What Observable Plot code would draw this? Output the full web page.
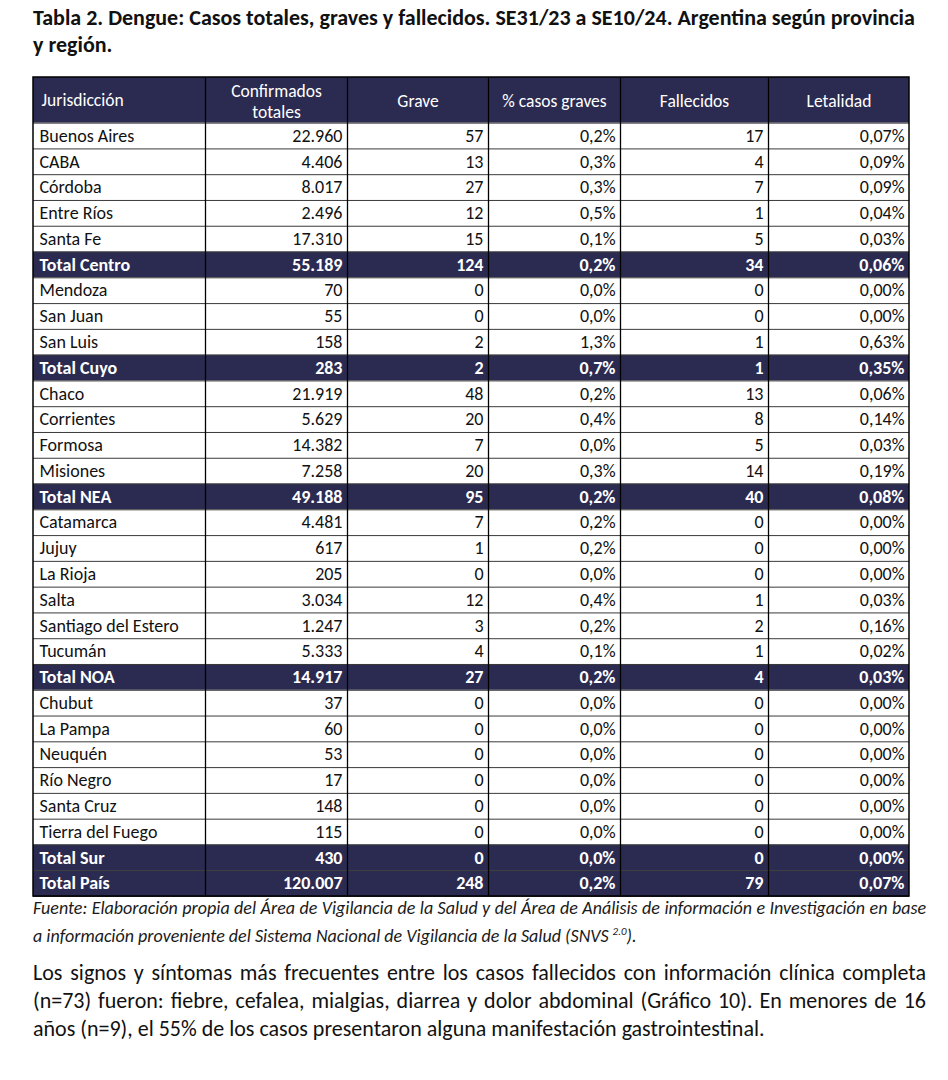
<!DOCTYPE html>
<html>
<head>
<meta charset="utf-8">
<script src="https://cdn.jsdelivr.net/npm/d3@7"></script>
<script src="https://cdn.jsdelivr.net/npm/@observablehq/plot@0.6"></script>
<style>
  html, body { margin: 0; padding: 0; background: #fff; }
  body { width: 948px; height: 1080px; position: relative; overflow: hidden;
         font-family: Carlito, "Liberation Sans Narrow", "Liberation Sans", sans-serif; color: #111; }
  #title { position: absolute; left: 33px; top: 4px; width: 910px; font-weight: bold; font-size: 22px; line-height: 27px; color: #111; }
  #chart { position: absolute; left: 0; top: 70px; }
  #source { position: absolute; left: 33px; top: 897px; width: 893px; font-style: italic; font-size: 18px; line-height: 23px; color: #1a1a1a; }
  #para { position: absolute; left: 33px; top: 959px; width: 893px; font-size: 22px; line-height: 28px; color: #111; }
  .j { text-align: justify; text-align-last: justify; white-space: nowrap; }
</style>
</head>
<body>
<div id="title">Tabla 2. Dengue: Casos totales, graves y fallecidos. SE31/23 a SE10/24. Argentina según provincia<br>y región.</div>
<div id="chart"></div>
<div id="source"><div class="j">Fuente: Elaboración propia del Área de Vigilancia de la Salud y del Área de Análisis de información e Investigación en base</div><div>a información proveniente del Sistema Nacional de Vigilancia de la Salud (SNVS <sup style="font-size:11px">2.0</sup>).</div></div>
<div id="para"><div class="j">Los signos y síntomas más frecuentes entre los casos fallecidos con información clínica completa</div><div class="j">(n=73) fueron: fiebre, cefalea, mialgias, diarrea y dolor abdominal (Gráfico 10). En menores de 16</div><div>años (n=9), el 55% de los casos presentaron alguna manifestación gastrointestinal.</div></div>
<script>
// ---- data ----
const jurisdicciones = ["Buenos Aires","CABA","Córdoba","Entre Ríos","Santa Fe","Total Centro",
  "Mendoza","San Juan","San Luis","Total Cuyo",
  "Chaco","Corrientes","Formosa","Misiones","Total NEA",
  "Catamarca","Jujuy","La Rioja","Salta","Santiago del Estero","Tucumán","Total NOA",
  "Chubut","La Pampa","Neuquén","Río Negro","Santa Cruz","Tierra del Fuego","Total Sur","Total País"];
const confirmados = [22960,4406,8017,2496,17310,55189, 70,55,158,283, 21919,5629,14382,7258,49188,
  4481,617,205,3034,1247,5333,14917, 37,60,53,17,148,115,430,120007];
const grave = [57,13,27,12,15,124, 0,0,2,2, 48,20,7,20,95, 7,1,0,12,3,4,27, 0,0,0,0,0,0,0,248];
const pctGraves = [0.2,0.3,0.3,0.5,0.1,0.2, 0.0,0.0,1.3,0.7, 0.2,0.4,0.0,0.3,0.2, 0.2,0.2,0.0,0.4,0.2,0.1,0.2, 0,0,0,0,0,0,0,0.2];
const fallecidos = [17,4,7,1,5,34, 0,0,1,1, 13,8,5,14,40, 0,0,0,1,2,1,4, 0,0,0,0,0,0,0,79];
const letalidad = [0.07,0.09,0.09,0.04,0.03,0.06, 0,0,0.63,0.35, 0.06,0.14,0.03,0.19,0.08, 0,0,0,0.03,0.16,0.02,0.03, 0,0,0,0,0,0,0,0.07];
const headers = ["Jurisdicción","Confirmados\ntotales","Grave","% casos graves","Fallecidos","Letalidad"];

// ---- formatting ----
const loc = d3.formatLocale({decimal: ",", thousands: ".", grouping: [3], currency: ["$", ""]});
const fInt = loc.format(",d");
const f1 = v => loc.format(".1f")(v) + "%";
const f2 = v => loc.format(".2f")(v) + "%";

const rows = jurisdicciones.map((j, i) => ({
  i, j, total: j.startsWith("Total"),
  conf: confirmados[i], grave: grave[i], pct: pctGraves[i], fall: fallecidos[i], let: letalidad[i]
}));

// ---- layout (styling only) ----
const NAVY = "#2b2b51";
const FONT = 'Carlito, "Liberation Sans Narrow", "Liberation Sans", sans-serif';
const FS = 18;
const HFS = 17.5;
const widths = [172, 142, 141, 132, 148, 141];
const keys = ["j", "conf", "grave", "pct", "fall", "let"];
const fmts = [d => d, fInt, fInt, f1, fInt, f2];
let acc = 0;
const cols = widths.map((w, k) => { const c = {k, key: keys[k], label: headers[k], x0: acc, x1: acc + w, fmt: fmts[k]}; acc += w; return c; });
const W = acc;
const HDR = 1.77;
const N = rows.length;

const marks = [
  Plot.rect([0], {x1: 0, x2: W, y1: -HDR, y2: 0, fill: NAVY}),
  Plot.rect(rows.filter(d => d.total), {x1: 0, x2: W, y1: d => d.i, y2: d => d.i + 1, fill: NAVY}),
  Plot.ruleY(d3.range(0, N + 1), {x1: 0, x2: W, stroke: "#3a3a3a", strokeWidth: 1}),
  Plot.ruleX(cols.slice(1).map(c => c.x0), {y1: -HDR, y2: N, stroke: "#000", strokeWidth: 1.3}),
  Plot.rect([0], {x1: 0, x2: W, y1: -HDR, y2: N, fill: "none", stroke: "#000", strokeWidth: 1.5}),
  Plot.text(cols.slice(0, 1), {x: "x0", y: -HDR / 2, text: "label", textAnchor: "start", dx: 8, fill: "white", fontSize: HFS}),
  Plot.text(cols.slice(1), {x: c => (c.x0 + c.x1) / 2, y: -HDR / 2, text: "label", textAnchor: "middle", fill: "white", fontSize: HFS, lineHeight: 1.2})
];
for (const c of cols) {
  for (const tot of [false, true]) {
    const data = rows.filter(d => d.total === tot);
    marks.push(Plot.text(data, {
      x: c.k === 0 ? c.x0 : c.x1,
      y: d => d.i + 0.5,
      text: d => c.fmt(d[c.key]),
      textAnchor: c.k === 0 ? "start" : "end",
      dx: c.k === 0 ? 6 : -5,
      fill: tot ? "white" : "#111",
      fontWeight: tot ? "bold" : "normal",
      fontSize: FS
    }));
  }
}

const chart = Plot.plot({
  width: 948, height: 832, margin: 0,
  style: {fontFamily: FONT, background: "transparent", overflow: "visible"},
  x: {domain: [0, W], range: [33, 909], axis: null},
  y: {domain: [-HDR, N], range: [7, 826], axis: null},
  marks
});
document.getElementById("chart").append(chart);
</script>
</body>
</html>
